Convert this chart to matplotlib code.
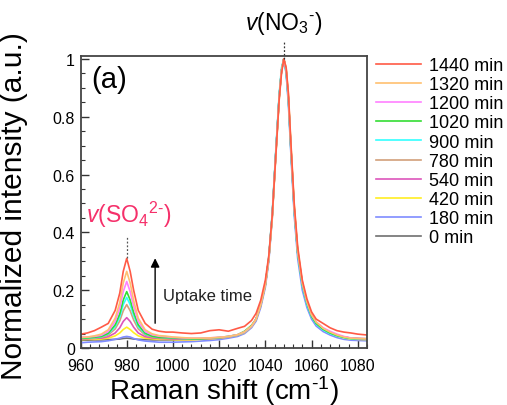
import matplotlib
matplotlib.use("Agg")
import matplotlib.pyplot as plt
from matplotlib.ticker import MultipleLocator, FixedLocator, FixedFormatter

plt.rcParams['font.family'] = ['Liberation Sans', 'DejaVu Sans']
plt.rcParams['mathtext.fontset'] = 'custom'
plt.rcParams['mathtext.rm'] = 'Liberation Sans'
plt.rcParams['mathtext.it'] = 'Liberation Sans:italic'

# Raman shift grid (cm-1)
shift = [960, 963, 966, 969, 972, 975, 977, 978.5, 980, 981.5, 983, 985, 988, 991, 994, 997,
         1000, 1004, 1008, 1012, 1016, 1020, 1024, 1028,
         1031, 1034, 1036, 1038, 1040, 1041.5, 1043, 1044.5, 1046, 1047, 1048, 1049, 1050, 1051,
         1052.5, 1054, 1056, 1058, 1060, 1062, 1065, 1068, 1071, 1074, 1077, 1080, 1084]

labels = ['1440 min', '1320 min', '1200 min', '1020 min', '900 min',
          '780 min', '540 min', '420 min', '180 min', '0 min']
colors = ['#ff5a46', '#ffc070', '#ff80ff', '#33dd33', '#33ffff',
          '#d2a07a', '#dd55bb', '#ffee22', '#7f8cff', '#707070']

t1440 = [0.048, 0.052, 0.060, 0.072, 0.085, 0.13, 0.19, 0.265, 0.31, 0.265, 0.2, 0.13, 0.085, 0.065, 0.058, 0.055,
         0.055, 0.052, 0.050, 0.052, 0.060, 0.063, 0.058, 0.068,
         0.075, 0.095, 0.12, 0.165, 0.235, 0.32, 0.46, 0.66, 0.86, 0.95, 1.0, 0.97, 0.88, 0.72, 0.50, 0.35,
         0.235, 0.17, 0.125, 0.10, 0.085, 0.07, 0.06, 0.055, 0.052, 0.048, 0.045]
t1320 = [0.036, 0.038, 0.042, 0.048, 0.063, 0.103, 0.157, 0.225, 0.265, 0.225, 0.164, 0.103, 0.063, 0.049, 0.043, 0.041,
         0.038, 0.036, 0.034, 0.034, 0.035, 0.037, 0.040, 0.046,
         0.056, 0.076, 0.10, 0.15, 0.22, 0.31, 0.45, 0.66, 0.86, 0.96, 1.0, 0.97, 0.87, 0.71, 0.49, 0.335,
         0.225, 0.16, 0.115, 0.09, 0.068, 0.055, 0.045, 0.038, 0.034, 0.033, 0.032]
t1200 = [0.038, 0.038, 0.040, 0.044, 0.057, 0.092, 0.138, 0.195, 0.230, 0.195, 0.144, 0.092, 0.057, 0.046, 0.041, 0.039,
         0.037, 0.035, 0.034, 0.034, 0.035, 0.037, 0.040, 0.046,
         0.056, 0.075, 0.10, 0.15, 0.22, 0.31, 0.46, 0.67, 0.87, 0.96, 1.0, 0.96, 0.86, 0.70, 0.48, 0.335,
         0.225, 0.16, 0.115, 0.09, 0.07, 0.058, 0.048, 0.04, 0.035, 0.033, 0.032]
t1020 = [0.035, 0.035, 0.037, 0.040, 0.051, 0.080, 0.118, 0.166, 0.195, 0.166, 0.123, 0.080, 0.051, 0.041, 0.037, 0.036,
         0.035, 0.033, 0.032, 0.032, 0.034, 0.036, 0.040, 0.046,
         0.058, 0.078, 0.10, 0.15, 0.22, 0.31, 0.46, 0.67, 0.87, 0.96, 1.0, 0.96, 0.86, 0.70, 0.48, 0.33,
         0.22, 0.155, 0.11, 0.085, 0.065, 0.052, 0.043, 0.037, 0.033, 0.032, 0.031]
t900 = [0.034, 0.035, 0.036, 0.039, 0.049, 0.074, 0.108, 0.150, 0.175, 0.150, 0.112, 0.074, 0.049, 0.041, 0.037, 0.036,
        0.035, 0.033, 0.032, 0.033, 0.034, 0.036, 0.040, 0.045,
        0.055, 0.075, 0.10, 0.15, 0.22, 0.315, 0.47, 0.68, 0.88, 0.97, 1.0, 0.95, 0.85, 0.69, 0.47, 0.325,
        0.215, 0.15, 0.108, 0.083, 0.063, 0.05, 0.042, 0.036, 0.032, 0.031, 0.03]
t780 = [0.032, 0.033, 0.034, 0.037, 0.045, 0.066, 0.094, 0.129, 0.150, 0.129, 0.097, 0.066, 0.045, 0.038, 0.035, 0.034,
        0.033, 0.032, 0.031, 0.032, 0.033, 0.036, 0.039, 0.045,
        0.055, 0.074, 0.10, 0.148, 0.218, 0.31, 0.46, 0.67, 0.87, 0.96, 1.0, 0.96, 0.86, 0.70, 0.485, 0.335,
        0.225, 0.158, 0.113, 0.088, 0.067, 0.054, 0.045, 0.038, 0.034, 0.032, 0.031]
t540 = [0.031, 0.032, 0.033, 0.034, 0.039, 0.052, 0.070, 0.092, 0.105, 0.092, 0.072, 0.052, 0.039, 0.035, 0.033, 0.032,
        0.031, 0.030, 0.030, 0.031, 0.033, 0.035, 0.039, 0.045,
        0.054, 0.074, 0.099, 0.149, 0.22, 0.31, 0.46, 0.67, 0.87, 0.96, 1.0, 0.96, 0.86, 0.70, 0.48, 0.33,
        0.222, 0.158, 0.114, 0.088, 0.068, 0.055, 0.045, 0.038, 0.034, 0.032, 0.031]
t420 = [0.029, 0.030, 0.030, 0.031, 0.034, 0.042, 0.052, 0.064, 0.072, 0.064, 0.053, 0.042, 0.034, 0.032, 0.030, 0.030,
        0.029, 0.028, 0.028, 0.030, 0.032, 0.034, 0.038, 0.044,
        0.053, 0.073, 0.098, 0.148, 0.218, 0.31, 0.455, 0.665, 0.865, 0.96, 1.0, 0.965, 0.87, 0.71, 0.49, 0.34,
        0.228, 0.16, 0.115, 0.088, 0.066, 0.052, 0.042, 0.035, 0.031, 0.03, 0.029]
t180 = [0.018, 0.020, 0.021, 0.022, 0.025, 0.030, 0.034, 0.038, 0.040, 0.038, 0.033, 0.028, 0.024, 0.022, 0.020, 0.020,
        0.020, 0.021, 0.022, 0.024, 0.026, 0.029, 0.034, 0.040,
        0.05, 0.07, 0.093, 0.14, 0.21, 0.30, 0.45, 0.67, 0.87, 0.96, 1.0, 0.95, 0.84, 0.68, 0.46, 0.31,
        0.20, 0.14, 0.10, 0.076, 0.057, 0.045, 0.036, 0.03, 0.027, 0.026, 0.025]
t0 = [0.027, 0.027, 0.028, 0.028, 0.029, 0.030, 0.031, 0.033, 0.034, 0.033, 0.031, 0.030, 0.029, 0.028, 0.028, 0.028,
      0.028, 0.029, 0.030, 0.031, 0.032, 0.034, 0.038, 0.044,
      0.055, 0.075, 0.10, 0.15, 0.22, 0.31, 0.46, 0.67, 0.87, 0.96, 1.0, 0.96, 0.86, 0.70, 0.48, 0.33,
      0.22, 0.155, 0.112, 0.087, 0.066, 0.053, 0.044, 0.038, 0.034, 0.033, 0.032]

series = [t1440, t1320, t1200, t1020, t900, t780, t540, t420, t180, t0]

xticks = [960, 980, 1000, 1020, 1040, 1060, 1080]
yticks = [0, 0.2, 0.4, 0.6, 0.8, 1.0]
ytick_labels = ['0', '0.2', '0.4', '0.6', '0.8', '1']

W, H = 507, 406
fig = plt.figure(figsize=(W / 100, H / 100), dpi=100)
ax = fig.add_axes([80.5 / W, 1 - 349 / H, (367 - 80.5) / W, (349 - 57) / H])

handles = []
for ys, c, lab in zip(series[::-1], colors[::-1], labels[::-1]):
    ln, = ax.plot(shift, ys, color=c, lw=1.2, label=lab)
    handles.append(ln)
handles = handles[::-1]

ax.set_xlim(960, 1084)
ax.set_ylim(0, 1.01)
ax.xaxis.set_major_locator(FixedLocator(xticks))
ax.xaxis.set_minor_locator(MultipleLocator(4))
ax.yaxis.set_major_locator(FixedLocator(yticks))
ax.yaxis.set_major_formatter(FixedFormatter(ytick_labels))
ax.yaxis.set_minor_locator(MultipleLocator(0.05))
ax.tick_params(which='both', direction='in', top=False, right=False, color='#333333')
ax.tick_params(which='major', length=6, width=1, labelsize=11.5)
ax.tick_params(axis='x', which='major', pad=7)
ax.tick_params(axis='y', which='major', pad=4)
ax.tick_params(which='minor', length=3, width=0.8)
for s in ax.spines.values():
    s.set_color('#444444')
    s.set_linewidth(1.3)

ax.set_xlabel('Raman shift (cm$^{\\text{-1}}$)', fontsize=20, labelpad=0)
ax.set_ylabel('Normalized intensity (a.u.)', fontsize=21.5)
ax.yaxis.set_label_coords(-0.183, 0.49)

ax.text(0.1, 0.92, '(a)', transform=ax.transAxes, fontsize=21, ha='center', va='center')

# peak markers
ax.plot([1048, 1048], [1.0, 1.06], ls=(0, (1.5, 1.5)), color='#333333', lw=0.9, clip_on=False)
ax.text(1048, 1.125, r'$\mathit{v}$(NO$_3$$^{\text{-}}$)', fontsize=16.5, ha='center', va='center')
ax.plot([980, 980], [0.31, 0.385], ls=(0, (1.5, 1.5)), color='#555555', lw=0.9)
ax.text(981, 0.465, r'$\mathit{v}$(SO$_4$$^{\text{2-}}$)', fontsize=16.5, ha='center', va='center',
        color='#f5306a')

ax.annotate('', xy=(992.3, 0.32), xytext=(992.3, 0.076),
            arrowprops=dict(arrowstyle='-|>', color='black', lw=1.0, mutation_scale=13))
ax.text(995.5, 0.18, 'Uptake time', fontsize=12, ha='left', va='center', color='#222222')

fig.legend(handles, labels, loc='upper left', bbox_to_anchor=(376 / W, 1 - 58 / H),
           frameon=False, fontsize=13, handlelength=2.5, handletextpad=0.45,
           labelspacing=0.12, borderpad=0, borderaxespad=0)

fig.savefig('out.png', dpi=100)
